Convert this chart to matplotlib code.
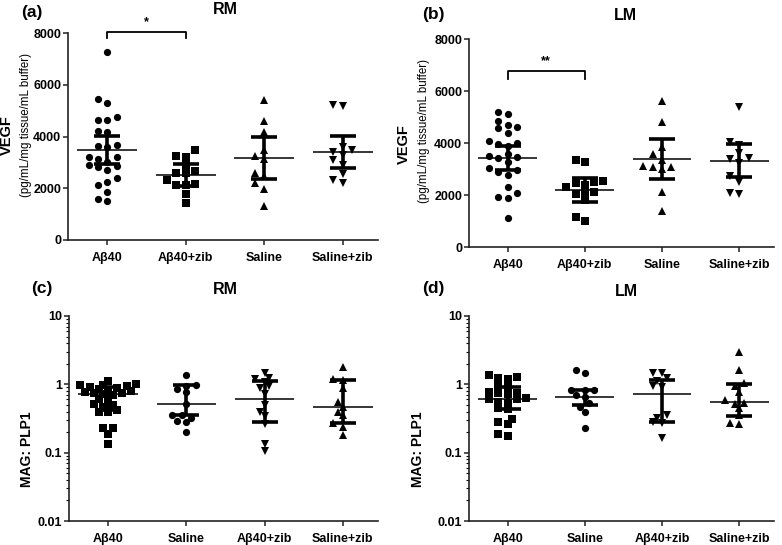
import numpy as np
import matplotlib
matplotlib.use('Agg')
import matplotlib.pyplot as plt
from matplotlib.ticker import FixedLocator, LogLocator, NullFormatter

plt.rcParams['font.family'] = ['Liberation Sans', 'DejaVu Sans']
plt.rcParams['font.weight'] = 'bold'

# ---- data ----
vegf_groups = ['Aβ40', 'Aβ40+zib', 'Saline', 'Saline+zib']
mag_groups = ['Aβ40', 'Saline', 'Aβ40+zib', 'Saline+zib']

# (a) VEGF, RM
a_ab40 = [7260, 5450, 5310, 4770, 4620, 4620, 4220, 4170, 3680, 3640, 3610, 3220,
          3220, 3130, 3030, 2880, 2860, 2840, 2710, 2390, 2260, 2130, 1870, 1590, 1510]
a_ab40_zib = [3480, 3250, 3220, 2900, 2650, 2600, 2580, 2300, 2170, 2130, 2130, 1780, 1420]
a_saline = [5420, 4580, 4190, 3480, 3260, 3140, 2580, 2490, 2190, 1970, 1330]
a_saline_zib = [5230, 5160, 3610, 3480, 3420, 3290, 3100, 2880, 2540, 2320, 2190]
a_mean = [3483, 2516, 3185, 3393]
a_lo = [2941, 2103, 2348, 2774]
a_hi = [4025, 2920, 3974, 4025]

# (b) VEGF, LM
b_ab40 = [5210, 5110, 4860, 4690, 4630, 4570, 4380, 4080, 3990, 3950, 3880, 3580, 3500,
          3480, 3410, 3280, 3020, 2960, 2890, 2760, 2310, 2060, 1930, 1870, 1100]
b_ab40_zib = [3350, 3260, 2520, 2500, 2450, 2400, 2300, 2120, 2100, 2050, 1800, 1160, 1000]
b_saline = [5600, 4790, 3840, 3580, 3350, 3130, 3070, 3060, 3010, 2120, 1390]
b_saline_zib = [5380, 4050, 3930, 3600, 3440, 3370, 3240, 2730, 2510, 2090, 2030]
b_mean = [3434, 2186, 3373, 3320]
b_lo = [2958, 1736, 2601, 2703]
b_hi = [3897, 2636, 4145, 3952]

# (c) MAG:PLP1, RM
c_ab40 = [1.12, 1.00, 0.98, 0.97, 0.95, 0.92, 0.89, 0.85, 0.82, 0.80, 0.77, 0.75, 0.74,
          0.72, 0.70, 0.62, 0.58, 0.52, 0.50, 0.46, 0.42, 0.40, 0.39, 0.23, 0.23, 0.19, 0.135]
c_saline = [1.35, 0.97, 0.96, 0.86, 0.76, 0.51, 0.36, 0.35, 0.32, 0.29, 0.28, 0.20]
c_ab40_zib = [1.45, 1.25, 1.20, 1.10, 0.93, 0.87, 0.72, 0.50, 0.39, 0.34, 0.26, 0.135, 0.107]
c_saline_zib = [1.82, 1.20, 1.16, 0.87, 0.56, 0.46, 0.40, 0.35, 0.27, 0.24, 0.18]
c_mid = [0.71, 0.51, 0.60, 0.46]
c_lo = [0.42, 0.35, 0.278, 0.268]
c_hi = [0.90, 0.98, 1.12, 1.16]

# (d) MAG:PLP1, LM
d_ab40 = [1.37, 1.30, 1.22, 1.20, 0.98, 0.96, 0.78, 0.75, 0.74, 0.72, 0.63, 0.62, 0.60,
          0.56, 0.53, 0.45, 0.43, 0.31, 0.28, 0.26, 0.19, 0.175]
d_saline = [1.62, 1.48, 0.83, 0.83, 0.82, 0.70, 0.66, 0.53, 0.47, 0.40, 0.23]
d_ab40_zib = [1.45, 1.45, 1.22, 1.12, 0.96, 0.92, 0.36, 0.32, 0.28, 0.27, 0.165]
d_saline_zib = [2.95, 1.62, 1.03, 0.93, 0.77, 0.59, 0.53, 0.52, 0.45, 0.35, 0.27, 0.26]
d_mid = [0.62, 0.66, 0.71, 0.546]
d_lo = [0.435, 0.50, 0.284, 0.344]
d_hi = [0.92, 0.83, 1.15, 1.00]

W, H = 782, 545
fig = plt.figure(figsize=(W / 100, H / 100), dpi=100)


def rect(l, t, r, b):
    return [l / W, 1 - b / H, (r - l) / W, (b - t) / H]


def swarm(vals, ypx, xpx_unit, step_px, diam_px):
    # simple beeswarm: nearest free slot, alternating left/right
    ys = ypx(np.asarray(vals, float))
    offs = np.zeros(len(vals))
    placed = []
    cands = [0] + [s * k for k in range(1, 12) for s in (-1, 1)]
    for i in np.argsort(vals):
        for c in cands:
            x = c * step_px
            if all((x - px) ** 2 + (ys[i] - py) ** 2 >= diam_px ** 2 for px, py in placed):
                break
        placed.append((x, ys[i]))
        offs[i] = x
    return offs / xpx_unit


def panel(box, series, markers, mid, lo, hi, labels, log):
    ax = fig.add_axes(rect(*box))
    l, t, r, b = box
    xmin, xmax = -0.5, 3.45
    xpx = (r - l) / (xmax - xmin)
    if log:
        ax.set_yscale('log')
        ax.set_ylim(0.01, 10)
        ypx = lambda v: np.log10(v) * (b - t) / 3.0
        step, diam = 4.65, 6.0
    else:
        ax.set_ylim(0, 8000)
        ypx = lambda v: v * (b - t) / 8000.0
        step, diam = 9.3, 7.0
    ax.set_xlim(xmin, xmax)
    for i, (vals, m) in enumerate(zip(series, markers)):
        off = swarm(vals, ypx, xpx, step, diam)
        ax.plot(i + off, vals, m, ls='none', color='black', ms=5.2, mew=0, clip_on=False)
        ax.errorbar(i, mid[i], yerr=[[mid[i] - lo[i]], [hi[i] - mid[i]]], fmt='none',
                    ecolor='black', elinewidth=2.6, capsize=9.5, capthick=2.6)
        ax.hlines(mid[i], i - 0.38, i + 0.38, color='black', lw=1.1)
    ax.set_xticks(range(4))
    ax.set_xticklabels(labels, fontsize=9, fontweight='bold')
    for s in ['top', 'right']:
        ax.spines[s].set_visible(False)
    for s in ['left', 'bottom']:
        ax.spines[s].set_linewidth(1.2)
        ax.spines[s].set_color('#222222')
    ax.tick_params(axis='both', direction='out', length=3.5, width=1.1, labelsize=9,
                   color='#222222', pad=1.5)
    ax.tick_params(axis='x', pad=5)
    if log:
        ax.yaxis.set_major_locator(FixedLocator([0.01, 0.1, 1, 10]))
        ax.set_yticklabels(['0.01', '0.1', '1', '10'])
        ax.yaxis.set_minor_locator(LogLocator(base=10, subs=np.arange(2, 10)))
        ax.yaxis.set_minor_formatter(NullFormatter())
        ax.tick_params(axis='y', which='minor', length=2, width=0.8)
    else:
        ax.set_yticks([0, 2000, 4000, 6000, 8000])
    for lab in ax.get_yticklabels():
        lab.set_fontweight('bold')
    return ax


vegf_markers = ['o', 's', '^', 'v']
mag_markers = ['s', 'o', 'v', '^']

ax_a = panel((68, 33, 378, 240), [a_ab40, a_ab40_zib, a_saline, a_saline_zib],
             vegf_markers, a_mean, a_lo, a_hi, vegf_groups, False)
ax_b = panel((469, 39, 774, 247), [b_ab40, b_ab40_zib, b_saline, b_saline_zib],
             vegf_markers, b_mean, b_lo, b_hi, vegf_groups, False)
ax_c = panel((69, 316, 378, 521), [c_ab40, c_saline, c_ab40_zib, c_saline_zib],
             mag_markers, c_mid, c_lo, c_hi, mag_groups, True)
ax_d = panel((469, 316, 774, 521), [d_ab40, d_saline, d_ab40_zib, d_saline_zib],
             mag_markers, d_mid, d_lo, d_hi, mag_groups, True)

# significance brackets
ax_a.plot([0, 0, 1, 1], [7800, 8050, 8050, 7800], color='black', lw=1.3, clip_on=False)
ax_a.text(0.5, 8180, '*', ha='center', va='bottom', fontsize=9)
ax_b.plot([0, 0, 1, 1], [6460, 6770, 6770, 6460], color='black', lw=1.3, clip_on=False)
ax_b.text(0.5, 6900, '**', ha='center', va='bottom', fontsize=9)


def ftext(x, y, s, **kw):
    fig.text(x / W, 1 - y / H, s, ha='center', va='center', **kw)


for x, y, s in [(32, 13, '(a)'), (433, 15, '(b)'), (42, 289, '(c)'), (433, 289, '(d)')]:
    ftext(x, y, s, fontsize=12.5, fontweight='bold')
for x, y, s in [(225, 10, 'RM'), (625, 15, 'LM'), (225, 290, 'RM'), (626, 291, 'LM')]:
    ftext(x, y, s, fontsize=11.5, fontweight='bold')

ftext(7, 135, 'VEGF', fontsize=10.5, fontweight='bold', rotation=90)
ftext(26, 125, '(pg/mL/mg tissue/mL buffer)', fontsize=8.3, fontweight='normal', rotation=90)
ftext(404, 144, 'VEGF', fontsize=10.5, fontweight='bold', rotation=90)
ftext(424, 131, '(pg/mL/mg tissue/mL buffer)', fontsize=8.3, fontweight='normal', rotation=90)
ftext(27, 449, 'MAG: PLP1', fontsize=10, fontweight='bold', rotation=90)
ftext(418, 449, 'MAG: PLP1', fontsize=10, fontweight='bold', rotation=90)

fig.savefig('out.png', dpi=100)
